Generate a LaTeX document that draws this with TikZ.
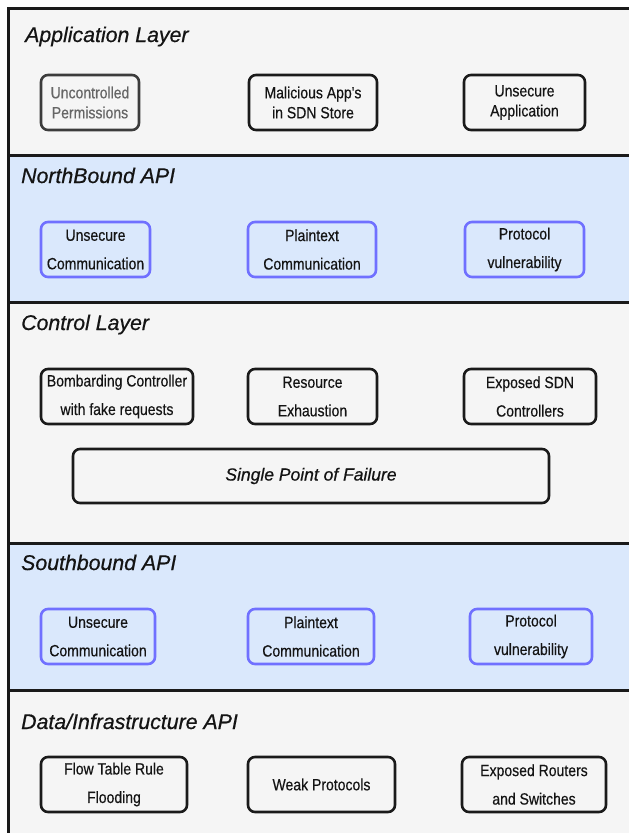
\documentclass[tikz,border=0pt]{standalone}
\usepackage{fontspec}
\setmainfont{Liberation Sans}
\newfontfamily\nf[FakeStretch=0.86,FakeBold=0.4]{Liberation Sans}
\newfontfamily\tf[FakeBold=0.6]{Liberation Sans}
\definecolor{bandgray}{HTML}{F5F5F5}
\definecolor{bandblue}{HTML}{DAE8FC}
\definecolor{edgedark}{HTML}{1A1A1A}
\definecolor{boxblue}{HTML}{7070FF}
\definecolor{txt}{HTML}{141414}
\tikzset{
  band/.style={draw=edgedark, line width=3pt},
  ttl/.style={anchor=base west, inner sep=0pt, text=txt, font=\tf\fontsize{21.3}{24}\selectfont\itshape},
  box/.style={draw=edgedark, line width=2.6pt, rounded corners=7pt, align=center, inner sep=0pt,
    text=txt, minimum height=55pt, font=\nf\fontsize{16.3}{28.5}\selectfont},
  bbox/.style={box, draw=boxblue},
  tight/.style={font=\nf\fontsize{16.3}{20}\selectfont}
}
\begin{document}
\begin{tikzpicture}[x=1pt,y=-1pt]
\useasboundingbox (0,0) rectangle (629,833);
\clip (0,0) rectangle (629,833);
\fill[white] (0,0) rectangle (629,833);
% bands
\path[band, fill=bandgray] (8,8) rectangle (660,155);
\path[band, fill=bandblue] (8,155) rectangle (660,302);
\path[band, fill=bandgray] (8,302) rectangle (660,543);
\path[band, fill=bandblue] (8,543) rectangle (660,690);
\path[band, fill=bandgray] (8,690) rectangle (660,860);
% titles
\node[ttl] (tapp) at (25,42) {Application Layer};
\node[ttl] (tnb) at (21,183) {NorthBound API};
\node[ttl] (tcl) at (21,330) {Control Layer};
\node[ttl] (tsb) at (21,570) {Southbound API};
\node[ttl] (tdl) at (21,729) {Data/Infrastructure API};
% application layer
\node[box, tight, draw=edgedark!85, text=black!60, minimum width=98pt] (app1) at (90,102.5) {Uncontrolled\\Permissions};
\node[box, tight, minimum width=128pt] (app2) at (313,102.5) {Malicious App's\\in SDN Store};
\node[box, tight, minimum width=121pt] (app3) at (524.5,102.5) {Unsecure\\Application};
% northbound
\node[bbox, minimum width=109pt] (nb1) at (95.5,249.5) {Unsecure\\Communication};
\node[bbox, minimum width=128pt] (nb2) at (312,249.5) {Plaintext\\Communication};
\node[bbox, minimum width=119pt] (nb3) at (524.5,249.5) {Protocol\\vulnerability};
% control
\node[box, minimum width=152pt] (c1) at (117,396.5) {Bombarding Controller\\with fake requests};
\node[box, minimum width=129pt] (c2) at (312.5,396.5) {Resource\\Exhaustion};
\node[box, minimum width=132pt] (c3) at (530,396.5) {Exposed SDN\\Controllers};
\node[box, minimum width=476pt, minimum height=54pt, font=\tf\fontsize{17.5}{20}\selectfont\itshape] (spf) at (311,476) {Single Point of Failure};
% southbound
\node[bbox, minimum width=114pt] (sb1) at (98,636.5) {Unsecure\\Communication};
\node[bbox, minimum width=126pt] (sb2) at (311,636.5) {Plaintext\\Communication};
\node[bbox, minimum width=122pt] (sb3) at (531,636.5) {Protocol\\vulnerability};
% data
\node[box, minimum width=146pt] (d1) at (114,784.5) {Flow Table Rule\\Flooding};
\node[box, minimum width=147pt] (d2) at (321.5,784.5) {Weak Protocols};
\node[box, minimum width=144pt] (d3) at (534,784.5) {Exposed Routers\\and Switches};
\end{tikzpicture}
\end{document}
